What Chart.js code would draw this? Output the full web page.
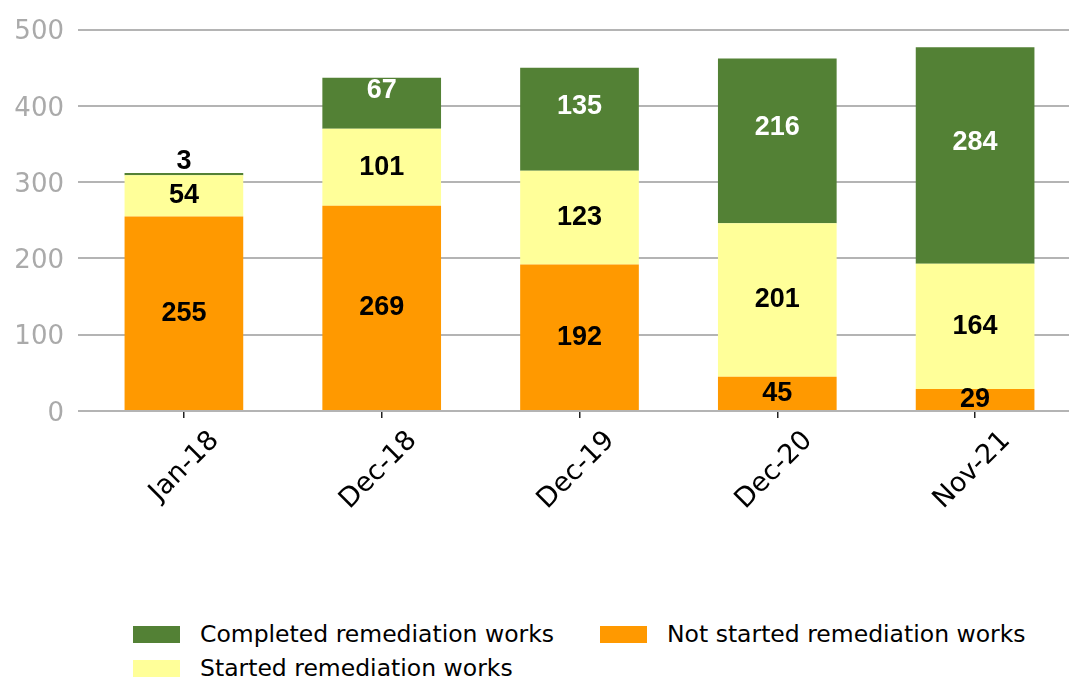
<!DOCTYPE html>
<html>
<head>
<meta charset="utf-8">
<script src="https://cdn.jsdelivr.net/npm/chart.js@4"></script>
<style>
  html, body { margin: 0; padding: 0; background: #fff; overflow: hidden; }
  #wrap { position: relative; width: 1069px; height: 679px; overflow: hidden; }
  #chart { position: absolute; left: 0; top: 0; }
  #legend {
    position: absolute; left: 133px; top: 621px;
    display: grid; grid-template-columns: 467px auto; row-gap: 8px;
    font-family: "DejaVu Sans", sans-serif; font-size: 23.5px; color: #000;
  }
  .item { display: flex; align-items: center; height: 26px; }
  .box { width: 47px; height: 17px; margin-right: 20px; }
</style>
</head>
<body>
<div id="wrap">
  <canvas id="chart" width="1074" height="600"></canvas>
  <div id="legend"></div>
</div>
<script>
const categories = ["Jan-18", "Dec-18", "Dec-19", "Dec-20", "Nov-21"];
const notStarted = [255, 269, 192, 45, 29];
const started = [54, 101, 123, 201, 164];
const completed = [3, 67, 135, 216, 284];
const yTicks = [0, 100, 200, 300, 400, 500];

// stacking order is bottom to top
const datasets = [
  { label: "Not started remediation works", data: notStarted, backgroundColor: "#FF9900", labelColor: "#000", labelShift: 0 },
  { label: "Started remediation works", data: started, backgroundColor: "#FFFF99", labelColor: "#000", labelShift: 0 },
  { label: "Completed remediation works", data: completed, backgroundColor: "#538135", labelColor: "#fff", labelShift: -13 }
];

// value labels inside each segment, or above it when the segment is too thin
const segmentLabels = {
  id: "segmentLabels",
  afterDatasetsDraw(chart) {
    const ctx = chart.ctx;
    ctx.save();
    ctx.font = 'bold 27px "Liberation Sans", Arial, sans-serif';
    ctx.textAlign = "center";
    chart.data.datasets.forEach((ds, i) => {
      chart.getDatasetMeta(i).data.forEach((bar, j) => {
        const v = ds.data[j];
        const h = Math.abs(bar.base - bar.y);
        if (h < 20) {
          ctx.fillStyle = "#000";
          ctx.textBaseline = "alphabetic";
          ctx.fillText(v, bar.x, bar.y - 4);
        } else {
          ctx.fillStyle = ds.labelColor;
          ctx.textBaseline = "middle";
          ctx.fillText(v, bar.x, (bar.y + bar.base) / 2 + ds.labelShift);
        }
      });
    });
    ctx.restore();
  }
};

new Chart(document.getElementById("chart"), {
  type: "bar",
  data: {
    labels: categories,
    datasets: datasets.map(d => ({
      label: d.label,
      data: d.data,
      backgroundColor: d.backgroundColor,
      labelColor: d.labelColor,
      labelShift: d.labelShift,
      borderWidth: 0,
      barPercentage: 0.6,
      categoryPercentage: 1
    }))
  },
  options: {
    responsive: false,
    animation: false,
    layout: { padding: { top: 29, left: 0, right: 0, bottom: 0 } },
    plugins: {
      legend: { display: false },
      tooltip: { enabled: false }
    },
    scales: {
      x: {
        stacked: true,
        border: { display: false },
        grid: { display: true, offset: false, drawOnChartArea: false, tickLength: 7, color: "#222", lineWidth: 1.5 },
        ticks: {
          color: "#000",
          font: { family: "DejaVu Sans", size: 27 },
          minRotation: 45,
          maxRotation: 45,
          labelOffset: 31,
          padding: 7
        },
        afterFit(scale) { scale.height = 189; }
      },
      y: {
        stacked: true,
        min: 0,
        max: 500,
        border: { display: false },
        grid: { color: "#b4b4b4", lineWidth: 2, tickLength: 7 },
        ticks: {
          color: "#aaa",
          font: { family: "DejaVu Sans", size: 26 },
          padding: 14,
          labelOffset: 3,
          callback: (v) => yTicks.includes(v) ? v : null
        },
        afterBuildTicks(scale) { scale.ticks = yTicks.map(v => ({ value: v })); },
        afterFit(scale) { scale.width = 85; }
      }
    }
  },
  plugins: [segmentLabels]
});

// legend: two columns, same order as the reference
const legendOrder = [2, 0, 1];
const legend = document.getElementById("legend");
legendOrder.forEach(i => {
  const item = document.createElement("div");
  item.className = "item";
  const box = document.createElement("span");
  box.className = "box";
  box.style.background = datasets[i].backgroundColor;
  const txt = document.createElement("span");
  txt.textContent = datasets[i].label;
  item.appendChild(box);
  item.appendChild(txt);
  legend.appendChild(item);
});
</script>
</body>
</html>
